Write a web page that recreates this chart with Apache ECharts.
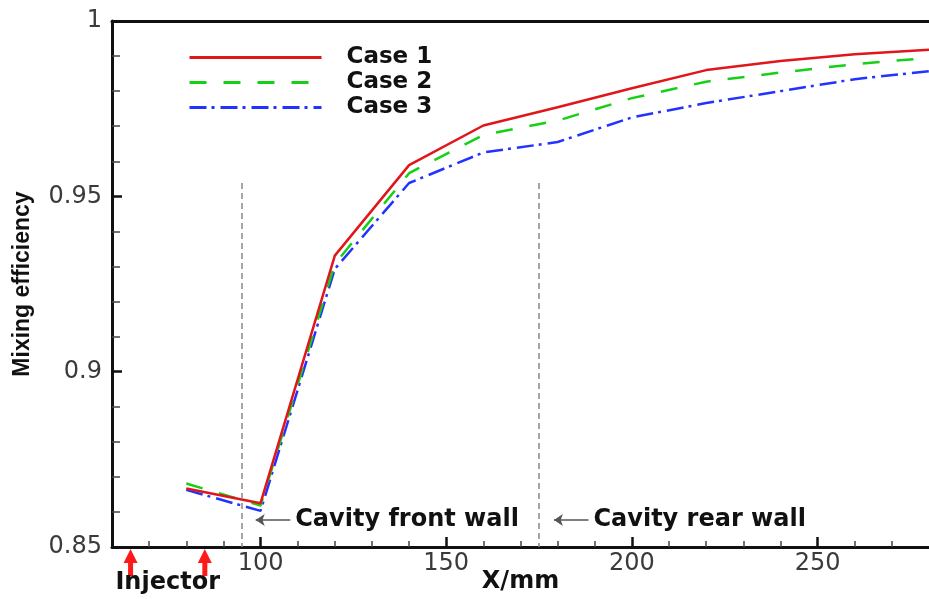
<!DOCTYPE html>
<html>
<head>
<meta charset="utf-8">
<script src="https://cdn.jsdelivr.net/npm/echarts@6/dist/echarts.min.js"></script>
<style>
html,body{margin:0;padding:0;background:#fff;}
#chart{width:929px;height:599px;}
</style>
</head>
<body>
<div id="chart"></div>
<script>
// ---- data ----
const xValues = [80, 100, 120, 140, 160, 180, 200, 220, 240, 260, 280];
const case1 = [0.8667, 0.8625, 0.9331, 0.9589, 0.9702, 0.9754, 0.9808, 0.9860, 0.9886, 0.9905, 0.9918];
const case2 = [0.8681, 0.8618, 0.9307, 0.9566, 0.9675, 0.9716, 0.9780, 0.9827, 0.9853, 0.9877, 0.9895];
const case3 = [0.8663, 0.8603, 0.9293, 0.9538, 0.9625, 0.9655, 0.9725, 0.9766, 0.9800, 0.9834, 0.9857];
const seriesNames = ['Case 1', 'Case 2', 'Case 3'];
const xMajorTicks = [100, 150, 200, 250];
const xMinorTicks = [70, 80, 90, 110, 120, 130, 140, 160, 170, 180, 190, 210, 220, 230, 240, 260, 270];
const cavityWalls = [95, 175];
const cavityWallTop = 0.9538;
const injectors = [65, 85];
const wallLabels = ['Cavity front wall', 'Cavity rear wall'];
const arrowY = 0.8577;
const frontArrow = [108, 98.7];
const rearArrow = [188.3, 179];

const chart = echarts.init(document.getElementById('chart'));
const tickFont = '"DejaVu Sans", sans-serif';
const boldFont = '"DejaVu Sans", sans-serif';

function pairs(vals) { return xValues.map((x, i) => [x, vals[i]]); }

const option = {
  animation: false,
  backgroundColor: '#fff',
  grid: { left: 112, right: -8, top: 21, bottom: 47, containLabel: false },
  legend: {
    orient: 'vertical', left: 188, top: 46, padding: 0,
    itemWidth: 132, itemHeight: 16, itemGap: 2,
    data: seriesNames,
    itemStyle: { opacity: 0 },
    lineStyle: { width: 3 },
    textStyle: { fontFamily: boldFont, fontWeight: 'bold', fontSize: 23, color: '#111', padding: [0, 0, 0, 20] }
  },
  xAxis: [
    {
      type: 'value', min: 60, max: 280, position: 'bottom',
      name: 'X/mm', nameLocation: 'middle', nameGap: 23, nameMoveOverlap: false,
      nameTextStyle: { fontFamily: boldFont, fontWeight: 'bold', fontSize: 24, color: '#111' },
      axisLine: { show: true, lineStyle: { color: '#111', width: 3 } },
      axisTick: { show: true, inside: true, length: 10, customValues: xMajorTicks, lineStyle: { color: '#111', width: 2.5 } },
      axisLabel: { show: true, customValues: xMajorTicks, margin: 5, fontFamily: tickFont, fontSize: 24, color: '#3a3a3a' },
      splitLine: { show: false }
    },
    {
      type: 'value', min: 60, max: 280, position: 'bottom',
      axisLine: { show: false },
      axisTick: { show: true, inside: true, length: 6, customValues: xMinorTicks, lineStyle: { color: '#444', width: 1.5 } },
      axisLabel: { show: false },
      splitLine: { show: false }
    },
    {
      type: 'value', min: 60, max: 280, position: 'top',
      axisLine: { show: true, lineStyle: { color: '#111', width: 3 } },
      axisTick: { show: false }, axisLabel: { show: false }, splitLine: { show: false }
    }
  ],
  yAxis: {
    type: 'value', min: 0.85, max: 1, interval: 0.05,
    name: 'Mixing efficiency', nameLocation: 'middle', nameGap: 78, nameRotate: 90, nameMoveOverlap: false,
    nameTextStyle: { fontFamily: '"Liberation Sans", Arial, sans-serif', fontWeight: 'bold', fontSize: 23, color: '#111' },
    axisLine: { show: true, lineStyle: { color: '#111', width: 3 } },
    axisTick: { show: true, inside: true, length: 10, lineStyle: { color: '#111', width: 2.5 } },
    minorTick: { show: true, splitNumber: 5, length: 8, lineStyle: { color: '#444', width: 1.5 } },
    axisLabel: { margin: 10, fontFamily: tickFont, fontSize: 24, color: '#3a3a3a' },
    splitLine: { show: false }
  },
  series: [
    {
      name: seriesNames[0], type: 'line', data: pairs(case1), symbol: 'none',
      color: '#e0161b', lineStyle: { color: '#e0161b', width: 2.5, type: 'solid' },
      markLine: {
        silent: true, symbol: ['none', 'none'], label: { show: false },
        lineStyle: { color: '#888', width: 1.5, type: [6, 4] },
        data: cavityWalls.map(x => [{ coord: [x, cavityWallTop] }, { coord: [x, 0.85] }])
      },
      z: 4
    },
    {
      name: seriesNames[1], type: 'line', data: pairs(case2), symbol: 'none',
      color: '#16d016', lineStyle: { color: '#16d016', width: 2.5, type: [17, 17] },
      markLine: {
        silent: true, symbol: ['none', 'arrow'], symbolSize: 9, label: { show: false },
        lineStyle: { color: '#555', width: 1.5, type: 'solid' },
        data: [
          [{ coord: [frontArrow[0], arrowY] }, { coord: [frontArrow[1], arrowY] }],
          [{ coord: [rearArrow[0], arrowY] }, { coord: [rearArrow[1], arrowY] }]
        ]
      },
      z: 3
    },
    {
      name: seriesNames[2], type: 'line', data: pairs(case3), symbol: 'none',
      color: '#2233ff', lineStyle: { color: '#2233ff', width: 2.5, type: [17, 5, 3, 6] },
      z: 2
    }
  ]
};
chart.setOption(option);

// annotation texts and injector arrows positioned through the axes
const g = [];
const fpx = chart.convertToPixel({ xAxisIndex: 0, yAxisIndex: 0 }, [frontArrow[0], arrowY]);
const rpx = chart.convertToPixel({ xAxisIndex: 0, yAxisIndex: 0 }, [rearArrow[0], arrowY]);
[[fpx, wallLabels[0]], [rpx, wallLabels[1]]].forEach(([p, t]) => {
  g.push({ type: 'text', silent: true, style: { text: t, x: p[0] + 5, y: p[1], font: 'bold 24px "DejaVu Sans"', fill: '#111', align: 'left', verticalAlign: 'middle' } });
});
const axisY = chart.convertToPixel({ yAxisIndex: 0 }, 0.85);
injectors.forEach(x => {
  const px = chart.convertToPixel({ xAxisIndex: 0 }, x);
  const tip = axisY + 2;
  g.push({ type: 'polygon', silent: true, shape: { points: [[px, tip], [px - 7, tip + 14], [px + 7, tip + 14]] }, style: { fill: '#ff1a1a' } });
  g.push({ type: 'rect', silent: true, shape: { x: px - 2.5, y: tip + 13, width: 5, height: 14 }, style: { fill: '#ff1a1a' } });
});
const injCenter = chart.convertToPixel({ xAxisIndex: 0 }, (injectors[0] + injectors[1]) / 2);
g.push({ type: 'text', silent: true, style: { text: 'Injector', x: injCenter, y: axisY + 36, font: 'bold 24px "DejaVu Sans"', fill: '#111', align: 'center', verticalAlign: 'middle' } });
chart.setOption({ graphic: g });
</script>
</body>
</html>
